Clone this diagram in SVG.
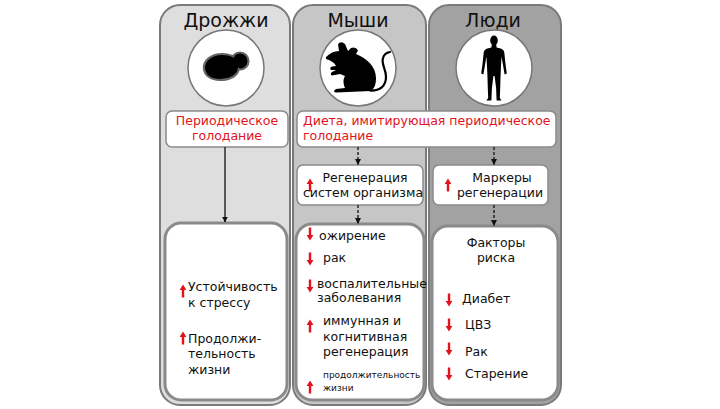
<svg xmlns="http://www.w3.org/2000/svg" width="720" height="409" viewBox="0 0 720 409">
<style>
.panel{stroke:#7a7a7a;stroke-width:2}
.box{fill:#fff;stroke:#8a8a8a;stroke-width:1.5}
.bigbox{fill:#fff;stroke:#8a8a8a;stroke-width:3}
.circ{fill:#fff;stroke:#777;stroke-width:1.5}
.title{font-family:"DejaVu Sans",sans-serif;font-size:19px;fill:#111;text-anchor:middle}
.t{font-family:"DejaVu Sans",sans-serif;font-size:12.5px;fill:#111}
.s{font-family:"DejaVu Sans",sans-serif;font-size:9px;fill:#111}
.red{font-family:"DejaVu Sans",sans-serif;font-size:12.5px;fill:#e3121b}
.conn{stroke:#111;stroke-width:1.3;fill:none}
.dash{stroke-dasharray:3,2}
.ra{fill:#e3121b}
</style>
<defs>
<marker id="ah" viewBox="0 0 10 10" refX="9" refY="5" markerWidth="6" markerHeight="6" orient="auto" markerUnits="userSpaceOnUse">
<path d="M0,0 L10,5 L0,10 Z" fill="#111"/>
</marker>
<path id="up" d="M0,-6.5 L3.4,-1 L1.2,-1 L1.2,6.5 L-1.2,6.5 L-1.2,-1 L-3.4,-1 Z"/>
<path id="down" d="M0,6.5 L3.4,1 L1.2,1 L1.2,-6.5 L-1.2,-6.5 L-1.2,1 L-3.4,1 Z"/>
</defs>
<rect width="720" height="409" fill="#fff"/>

<g id="panel-yeast">
<rect class="panel" x="160" y="5" width="130" height="400" rx="20" fill="#dedede"/>
<text class="title" x="226" y="27">Дрожжи</text>
<circle class="circ" cx="226" cy="68" r="38"/>
<g stroke="#666" stroke-width="2.2" fill="#000">
<circle cx="240" cy="61" r="8.5"/>
<path d="M204,69 C203,60 212,54 222,54 C233,54 239,59 239,67 C239,75 231,80 220,80 C210,80 205,75 204,69 Z"/>
</g>
<circle cx="240" cy="61" r="7.2" fill="#000"/>
</g>

<g id="panel-mice">
<rect class="panel" x="293" y="5" width="133" height="400" rx="20" fill="#c6c6c6"/>
<text class="title" x="358" y="27">Мыши</text>
<circle class="circ" cx="358" cy="68" r="38"/>
<path fill="#000" d="M326,57 C330,53 334,51 339,51 L338,44 Q341,40.5 345,44 L348,51 L351,48 Q356,46.5 358,50.5 L356,54 C366,58 376,66 376,78 C376,85 374,89 371,91 L336,92.5 Q332,91.5 336,89 L345,88 C343,84 343,79 345,76 L340,74 L332,75.5 Q329.5,74 332,72 L336,70 L331,70 Q329,68 332,66.5 L336,66 C334,62 330,60 326,59 Z"/>
<path d="M370,90.5 C380,91 386,86 386,77 C386,69 381,64 383,58 C384,54 387,52.5 390,52" stroke="#000" stroke-width="2.2" fill="none" stroke-linecap="round"/>
</g>

<g id="panel-humans">
<rect class="panel" x="429" y="5" width="132" height="400" rx="20" fill="#a2a2a2"/>
<text class="title" x="493" y="27">Люди</text>
<circle class="circ" cx="494" cy="68" r="38"/>
<ellipse cx="494" cy="40.5" rx="3.8" ry="5" fill="#000"/>
<path fill="#000" d="M491.8,44.5 L496.2,44.5 L496.6,47.5 L501.5,48.8 Q504,49.8 504.3,52.5 L505.5,64 L506.8,73.5 L504.6,74.5 L503,65 L501.6,56.5 L501,66 L500.6,75 L500.2,88 L499.8,98 L501.6,100.5 L496.6,100.5 L496.1,88 L494.6,76 L493.4,76 L491.9,88 L491.4,100.5 L486.4,100.5 L488.2,98 L487.8,88 L487.4,75 L487,66 L486.4,56.5 L485,65 L483.4,74.5 L481.2,73.5 L482.5,64 L483.7,52.5 Q484,49.8 486.5,48.8 L491.4,47.5 Z"/>
</g>

<g id="node-fasting">
<rect class="box" x="166" y="111" width="122" height="36" rx="6"/>
<text class="red" x="227" y="125" text-anchor="middle">Периодическое</text>
<text class="red" x="227" y="140" text-anchor="middle">голодание</text>
</g>

<g id="node-diet">
<rect class="box" x="297" y="111" width="259" height="36" rx="6"/>
<text class="red" x="303" y="125">Диета, имитирующая периодическое</text>
<text class="red" x="303" y="140">голодание</text>
</g>

<g id="node-mice-regen">
<rect class="box" x="297" y="165" width="126" height="40" rx="6"/>
<use href="#up" class="ra" x="310" y="185"/>
<text class="t" x="365" y="182" text-anchor="middle">Регенерация</text>
<text class="t" x="363" y="197" text-anchor="middle">систем организма</text>
</g>

<g id="node-human-markers">
<rect class="box" x="433" y="165" width="115" height="40" rx="6"/>
<use href="#up" class="ra" x="448" y="185"/>
<text class="t" x="502" y="182" text-anchor="middle">Маркеры</text>
<text class="t" x="500" y="197" text-anchor="middle">регенерации</text>
</g>

<g id="node-yeast-out">
<rect class="bigbox" x="165" y="223" width="122" height="177" rx="16"/>
<use href="#up" class="ra" x="183" y="291"/>
<text class="t" x="188" y="291">Устойчивость</text>
<text class="t" x="188" y="307">к стрессу</text>
<use href="#up" class="ra" x="183" y="338"/>
<text class="t" x="188" y="343">Продолжи-</text>
<text class="t" x="188" y="358">тельность</text>
<text class="t" x="188" y="374">жизни</text>
</g>

<g id="node-mice-out">
<rect class="bigbox" x="296" y="224" width="128" height="176" rx="16"/>
<use href="#down" class="ra" x="310" y="234"/>
<text class="t" x="319" y="240">ожирение</text>
<use href="#down" class="ra" x="310" y="259"/>
<text class="t" x="323" y="262">рак</text>
<use href="#down" class="ra" x="310" y="286"/>
<text class="t" x="317" y="288">воспалительные</text>
<text class="t" x="317" y="302">заболевания</text>
<use href="#up" class="ra" x="310" y="326"/>
<text class="t" x="323" y="325">иммунная и</text>
<text class="t" x="323" y="341">когнитивная</text>
<text class="t" x="323" y="356">регенерация</text>
<use href="#up" class="ra" x="310" y="387"/>
<text class="s" x="323" y="378">продолжительность</text>
<text class="s" x="323" y="391">жизни</text>
</g>

<g id="node-human-out">
<rect class="bigbox" x="432" y="226" width="126" height="174" rx="16"/>
<text class="t" x="496" y="247" text-anchor="middle">Факторы</text>
<text class="t" x="496" y="262" text-anchor="middle">риска</text>
<use href="#down" class="ra" x="449" y="300"/>
<text class="t" x="462" y="303">Диабет</text>
<use href="#down" class="ra" x="449" y="325"/>
<text class="t" x="465" y="329">ЦВЗ</text>
<use href="#down" class="ra" x="449" y="349"/>
<text class="t" x="465" y="356">Рак</text>
<use href="#down" class="ra" x="449" y="374"/>
<text class="t" x="465" y="378">Старение</text>
</g>

<g id="connectors">
<line class="conn" x1="225" y1="147" x2="225" y2="222" marker-end="url(#ah)"/>
<line class="conn dash" x1="358" y1="147" x2="358" y2="164.5" marker-end="url(#ah)"/>
<line class="conn dash" x1="358" y1="205" x2="358" y2="223.5" marker-end="url(#ah)"/>
<line class="conn dash" x1="494" y1="147" x2="494" y2="164.5" marker-end="url(#ah)"/>
<line class="conn dash" x1="494" y1="205" x2="494" y2="225.5" marker-end="url(#ah)"/>
</g>
</svg>
